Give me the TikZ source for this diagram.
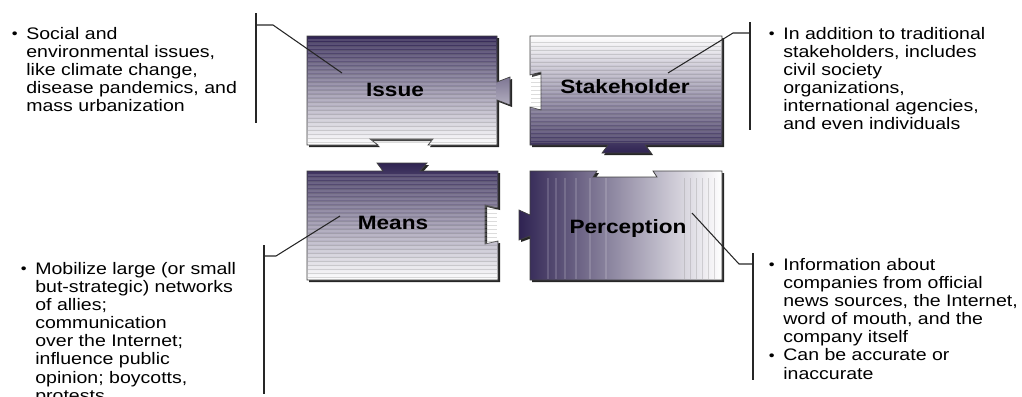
\documentclass[tikz,border=0pt]{standalone}
\usepackage{fontspec}
\setmainfont[FakeStretch=1.17]{Liberation Sans}
\usetikzlibrary{positioning}
\definecolor{plum}{HTML}{2F2352}
\definecolor{midgray}{HTML}{8C8794}
\newcommand{\bul}[1]{\llap{\raisebox{0.05em}{\scalebox{0.85}{\textbullet}}\hspace{#1}}}

\begin{document}
\begin{tikzpicture}[x=0.02cm, y=-0.02cm,
  piece/.style={draw=black!75, line width=0.4pt,
    preaction={fill=black!85, transform canvas={shift={(2,2)}}}},
  piecetext/.style={font=\fontsize{11}{13}\selectfont\bfseries},
  note/.style={align=left, inner sep=0pt, anchor=north west,
    font=\fontsize{9.5}{10.3}\selectfont},
  callout/.style={draw=black!85, line width=0.6pt},
  hstripe/.style={white, opacity=.15, line width=0.6pt},
  gstripe/.style={black!45, opacity=.3, line width=0.4pt}]
  \useasboundingbox (0,0) rectangle (1022,396);
  \clip (0,0) rectangle (1022,396);

  % the four pieces
  \shadedraw[piece, top color=plum, middle color=midgray, bottom color=white]
    (307,36) -- (497,36) -- (497,82) -- (510,77) -- (510,105) -- (497,100)
    -- (497,145) -- (428,145) -- (433,139) -- (370,139) -- (378,145)
    -- (307,145) -- cycle;
  \shadedraw[piece, top color=white, middle color=midgray, bottom color=plum]
    (530,36) -- (722,36) -- (722,145) -- (645,145) -- (651,153) -- (602,153)
    -- (608,145) -- (530,145) -- (530,107) -- (541,110) -- (541,72)
    -- (530,75) -- cycle;
  \shadedraw[piece, top color=plum, middle color=midgray, bottom color=white]
    (307,171) -- (383,171) -- (377,163) -- (427,163) -- (420,171) -- (498,171)
    -- (498,208) -- (485,205) -- (485,244) -- (498,241) -- (498,280)
    -- (307,280) -- cycle;
  \shadedraw[piece, left color=plum, middle color=black!22, right color=white]
    (530,171) -- (597,171) -- (593,177) -- (657,177) -- (653,171) -- (722,171)
    -- (722,280) -- (530,280) -- (530,236) -- (519,240) -- (519,210)
    -- (530,215) -- cycle;

  % stripes
  \foreach \y in {40,44,...,140} {
    \draw[hstripe] (308,\y) -- (496,\y);
    \draw[gstripe] (308,\y+2) -- (496,\y+2);
    \draw[hstripe] (531,\y) -- (721,\y);
    \draw[gstripe] (531,\y+2) -- (721,\y+2);
  }
  \foreach \y in {175,179,...,277} {
    \draw[hstripe] (308,\y) -- (497,\y);
    \draw[gstripe] (308,\y+2) -- (497,\y+2);
  }
  \foreach \x in {548,556,565,576,590,606} \draw[hstripe] (\x,178) -- (\x,279);
  \foreach \x in {684,690,696,702,708,714} \draw[gstripe] (\x,178) -- (\x,279);

  \node[piecetext] (issue)  at (395,90)  {Issue};
  \node[piecetext] (stake)  at (625,87)  {Stakeholder};
  \node[piecetext] (means)  at (393,223) {Means};
  \node[piecetext] (percep) at (628,228) {Perception};

  % notes
  \node[note] (iss-txt) at (26,27) {\bul{5pt}Social and\\ environmental issues,\\
    like climate change,\\ disease pandemics, and\\ mass urbanization};
  \node[note] (stk-txt) at (783,27) {\bul{5pt}In addition to traditional\\
    stakeholders, includes\\ civil society\\ organizations,\\
    international agencies,\\ and even individuals};
  \node[note] (mns-txt) at (35,262) {\bul{5pt}Mobilize large (or small\\
    but-strategic) networks\\ of allies;\\ communication\\ over the Internet;\\
    influence public\\ opinion; boycotts,\\ protests};
  \node[note] (per-txt) at (783,258) {\bul{5pt}Information about\\
    companies from official\\ news sources, the Internet,\\ word of mouth, and the\\
    company itself\\ \bul{5pt}Can be accurate or\\ inaccurate};

  % callouts
  \coordinate (iss-t) at (256,13);  \coordinate (iss-b) at (256,123);
  \coordinate (iss-k) at (273,25);  \coordinate (iss-e) at (342,73);
  \coordinate (stk-t) at (750,22);  \coordinate (stk-b) at (750,130);
  \coordinate (stk-k) at (733,33);  \coordinate (stk-e) at (668,73);
  \coordinate (mns-t) at (264,245); \coordinate (mns-b) at (264,394);
  \coordinate (mns-k) at (276,256); \coordinate (mns-e) at (340,216);
  \coordinate (per-t) at (753,253); \coordinate (per-b) at (753,380);
  \coordinate (per-k) at (739,264); \coordinate (per-e) at (692,213);
  \draw[callout] (iss-t) -- (iss-b);
  \draw[callout] (iss-t |- iss-k) -- (iss-k) -- (iss-e);
  \draw[callout] (stk-t) -- (stk-b);
  \draw[callout] (stk-t |- stk-k) -- (stk-k) -- (stk-e);
  \draw[callout] (mns-t) -- (mns-b);
  \draw[callout] (mns-t |- mns-k) -- (mns-k) -- (mns-e);
  \draw[callout] (per-t) -- (per-b);
  \draw[callout] (per-t |- per-k) -- (per-k) -- (per-e);
\end{tikzpicture}
\end{document}
